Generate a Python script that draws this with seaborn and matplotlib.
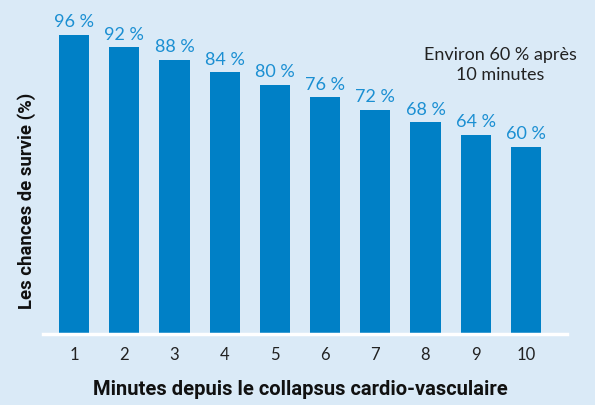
import matplotlib
matplotlib.use("Agg")
import matplotlib.pyplot as plt
import seaborn as sns
import pandas as pd

minutes = ["1", "2", "3", "4", "5", "6", "7", "8", "9", "10"]
survie = [96, 92, 88, 84, 80, 76, 72, 68, 64, 60]
labels = [f"{v} %" for v in survie]

bg = "#daeaf7"
bar_color = "#0080c6"
label_color = "#1b8fd2"

sns.set_theme(style="white")
plt.rcParams['font.family'] = ['Lato', 'DejaVu Sans']

fig = plt.figure(figsize=(5.95, 4.06), dpi=100, facecolor=bg)
ax = fig.add_axes([43/595, 1 - 335/406, (567-43)/595, 335/406])
ax.set_facecolor(bg)

df = pd.DataFrame({"minute": minutes, "survie": survie})
sns.barplot(data=df, x="minute", y="survie", color=bar_color, saturation=1,
            width=0.6, linewidth=0, edgecolor=bar_color, ax=ax)

for p, lab in zip(ax.patches, labels):
    ax.annotate(lab, (p.get_x() + p.get_width()/2, p.get_height()),
                xytext=(0, 4), textcoords="offset points", ha="center",
                va="bottom", color=label_color, fontsize=13)

ax.set_xlim(-0.62, 9.82)
ax.set_ylim(0, 107.5)
for s in ["top", "right", "left"]:
    ax.spines[s].set_visible(False)
ax.spines["bottom"].set_color("white")
ax.spines["bottom"].set_linewidth(2.5)
ax.set_yticks([])
ax.tick_params(axis="x", length=0, pad=9, labelsize=12, labelcolor="#222222")
ax.set_xlabel("")
ax.set_ylabel("")

fig.text(300/595, 1 - 390/406, "Minutes depuis le collapsus cardio-vasculaire",
         ha="center", va="center", fontsize=14.5, fontweight="bold",
         family=["Roboto", "DejaVu Sans"], color="#111111")
fig.text(27/595, 1 - 201/406, "Les chances de survie (%)", rotation=90,
         ha="center", va="center", fontsize=13.3, fontweight="bold",
         family=["Roboto", "DejaVu Sans"], color="#111111")

ax.text(500/595, 1 - 65/406, "Environ 60 % après\n10 minutes", transform=fig.transFigure,
        ha="center", va="center", fontsize=13, color="#222222", linespacing=1.25)

fig.savefig("out.png", dpi=100, facecolor=bg)
